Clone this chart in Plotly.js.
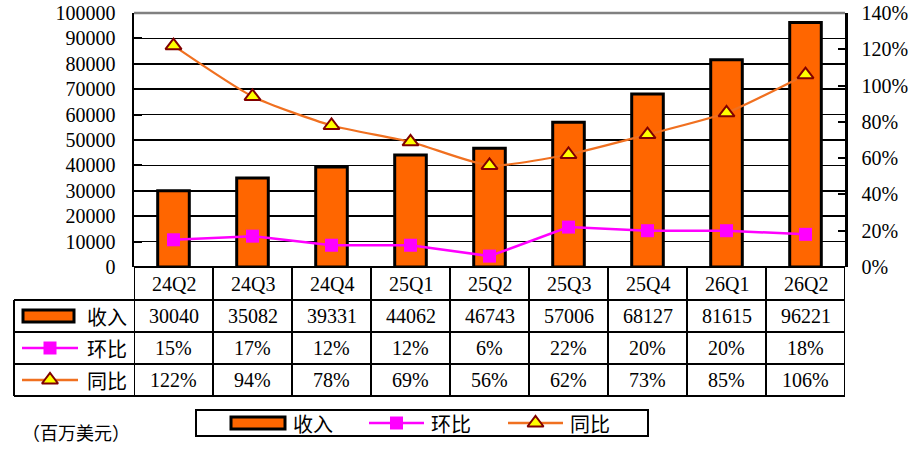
<!DOCTYPE html>
<html>
<head>
<meta charset="utf-8">
<script src="https://cdn.plot.ly/plotly-3.0.1.min.js"></script>
<style>body{margin:0;background:#fff}#chart{width:920px;height:450px}</style>
</head>
<body>
<div id="chart"></div>
<script>
var categories = ['24Q2','24Q3','24Q4','25Q1','25Q2','25Q3','25Q4','26Q1','26Q2'];
var revenue = [30040,35082,39331,44062,46743,57006,68127,81615,96221];
var qoq = [15,17,12,12,6,22,20,20,18];
var yoy = [122,94,78,69,56,62,73,85,106];
var seriesNames = ['收入','环比','同比'];
var unitLabel = '（百万美元）';

var W = 920, H = 450;
function px(x){return x/W;}
function py(y){return 1 - y/H;}

var NUM_FONT = 'Liberation Serif, serif';
var CJK_FONT = 'Noto Sans CJK SC';
var BAR_COLOR = '#FF6600';
var MAG = '#FF00FF';
var ORG = '#F07020';
var TRI_FILL = '#FFFF00';
var TRI_LINE = '#800000';

var plotL = 134, plotR = 845, plotT = 13, plotB = 267;
var rowY = [267, 300, 332, 364, 396];
var tableL = 14;
var n = categories.length;

var traces = [
  {type:'bar', x:categories, y:revenue, name:seriesNames[0],
   marker:{color:BAR_COLOR, line:{color:'#000', width:3}}, hoverinfo:'skip'},
  {type:'scatter', mode:'lines+markers', x:categories, y:qoq, yaxis:'y2', name:seriesNames[1],
   line:{color:MAG, width:2.5}, marker:{symbol:'square', size:13, color:MAG}},
  {type:'scatter', mode:'lines+markers', x:categories, y:yoy, yaxis:'y2', name:seriesNames[2],
   line:{color:ORG, width:2.2, shape:'spline', smoothing:0.6},
   marker:{symbol:'triangle-up', size:14, color:TRI_FILL, line:{color:TRI_LINE, width:2}}}
];

var shapes = [];
var annotations = [];

// top border (gray)
shapes.push({type:'line', xref:'paper', yref:'paper', x0:px(plotL), x1:px(plotR), y0:py(plotT), y1:py(plotT), line:{color:'#808080', width:2.5}, layer:'above'});

// table horizontal lines
for (var r = 0; r < rowY.length; r++) {
  var x0 = r === 0 ? px(plotL) : px(tableL);
  shapes.push({type:'line', xref:'paper', yref:'paper', x0:x0, x1:px(plotR), y0:py(rowY[r]), y1:py(rowY[r]), line:{color:'#000', width:2}});
}
// table vertical lines at category boundaries
for (var i = 0; i <= n; i++) {
  shapes.push({type:'line', xref:'x', yref:'paper', x0:i-0.5, x1:i-0.5, y0:py(rowY[0]), y1:py(rowY[4]), line:{color:'#000', width:2}});
}
// left table border
shapes.push({type:'line', xref:'paper', yref:'paper', x0:px(tableL), x1:px(tableL), y0:py(rowY[1]), y1:py(rowY[4]), line:{color:'#000', width:2}});

// table cell texts
function fmtPct(v){return v + '%';}
var rows = [
  categories,
  revenue.map(String),
  qoq.map(fmtPct),
  yoy.map(fmtPct)
];
for (var r = 0; r < rows.length; r++) {
  var yc = (rowY[r] + rowY[r+1]) / 2;
  for (var i = 0; i < n; i++) {
    annotations.push({xref:'x', yref:'paper', x:categories[i], y:py(yc), text:rows[r][i], showarrow:false,
      font:{family:NUM_FONT, size:20, color:'#000'}, xanchor:'center', yanchor:'middle'});
  }
}

// table row keys
function barKey(xa, xb, yc, h){
  shapes.push({type:'rect', xref:'paper', yref:'paper', x0:px(xa), x1:px(xb), y0:py(yc-h/2), y1:py(yc+h/2), fillcolor:BAR_COLOR, line:{color:'#000', width:3}});
}
function keyText(x, yc, t){
  annotations.push({xref:'paper', yref:'paper', x:px(x), y:py(yc), text:t, showarrow:false, xanchor:'left', yanchor:'middle',
    font:{family:CJK_FONT, size:20, color:'#000'}});
}
var keyTraces = [];
function lineKey(xa, xb, yc, idx){
  var src = traces[idx];
  keyTraces.push({type:'scatter', mode:'lines', xaxis:'x3', yaxis:'y3', x:[xa, xb], y:[yc, yc],
    line:{color:src.line.color, width:2.5}, hoverinfo:'skip', showlegend:false});
  keyTraces.push({type:'scatter', mode:'markers', xaxis:'x3', yaxis:'y3', x:[(xa+xb)/2], y:[yc],
    marker:src.marker, hoverinfo:'skip', showlegend:false});
}

var r1 = (rowY[1]+rowY[2])/2, r2 = (rowY[2]+rowY[3])/2, r3 = (rowY[3]+rowY[4])/2;
barKey(23, 74, r1, 12); keyText(85, r1, seriesNames[0]);
lineKey(22, 78, r2, 1); keyText(85, r2, seriesNames[1]);
lineKey(22, 78, r3, 2); keyText(85, r3, seriesNames[2]);

// bottom legend box
var lgT = 410, lgB = 436, lgC = (lgT+lgB)/2;
shapes.push({type:'rect', xref:'paper', yref:'paper', x0:px(196), x1:px(648), y0:py(lgT), y1:py(lgB), line:{color:'#000', width:2}, fillcolor:'rgba(0,0,0,0)'});
barKey(231, 285, lgC, 12); keyText(291, lgC, seriesNames[0]);
lineKey(369, 424, lgC, 1); keyText(429, lgC, seriesNames[1]);
lineKey(508, 563, lgC, 2); keyText(568, lgC, seriesNames[2]);

// unit label
annotations.push({xref:'paper', yref:'paper', x:px(20), y:py(432), text:unitLabel, showarrow:false, xanchor:'left', yanchor:'middle',
  font:{family:CJK_FONT, size:18, color:'#000'}});

var layout = {
  width:W, height:H,
  margin:{l:0, r:0, t:0, b:0},
  paper_bgcolor:'#fff', plot_bgcolor:'rgba(0,0,0,0)',
  showlegend:false,
  bargap:0.6,
  xaxis:{domain:[px(plotL), px(plotR)], type:'category', range:[-0.5, n-0.5], autorange:false,
    showticklabels:false, ticks:'', showgrid:false, zeroline:false, showline:false, fixedrange:true, anchor:'y'},
  yaxis:{domain:[py(plotB), py(plotT)], range:[0,100000], dtick:10000, tick0:0, showgrid:true, gridcolor:'#000', gridwidth:1.5,
    zeroline:false, showline:true, linecolor:'#000', linewidth:2.5, ticks:'inside', ticklen:8, tickwidth:2, tickcolor:'#000',
    ticklabelstandoff:12, tickfont:{family:NUM_FONT, size:20, color:'#000'}, tickformat:'d', anchor:'x'},
  yaxis2:{domain:[py(plotB), py(plotT)], overlaying:'y', side:'right', anchor:'x', range:[0,140], dtick:20, tick0:0, ticksuffix:'%',
    showgrid:false, zeroline:false, showline:true, linecolor:'#000', linewidth:2.5, ticks:'inside', ticklen:7, tickwidth:2, tickcolor:'#000',
    ticklabelstandoff:10, tickfont:{family:NUM_FONT, size:20, color:'#000'}},
  xaxis3:{domain:[0,1], range:[0,W], visible:false, fixedrange:true, anchor:'y3'},
  yaxis3:{domain:[0,1], range:[H,0], visible:false, fixedrange:true, anchor:'x3'},
  shapes:shapes,
  annotations:annotations
};

Plotly.newPlot('chart', traces.concat(keyTraces), layout, {displayModeBar:false, staticPlot:true});
</script>
</body>
</html>
